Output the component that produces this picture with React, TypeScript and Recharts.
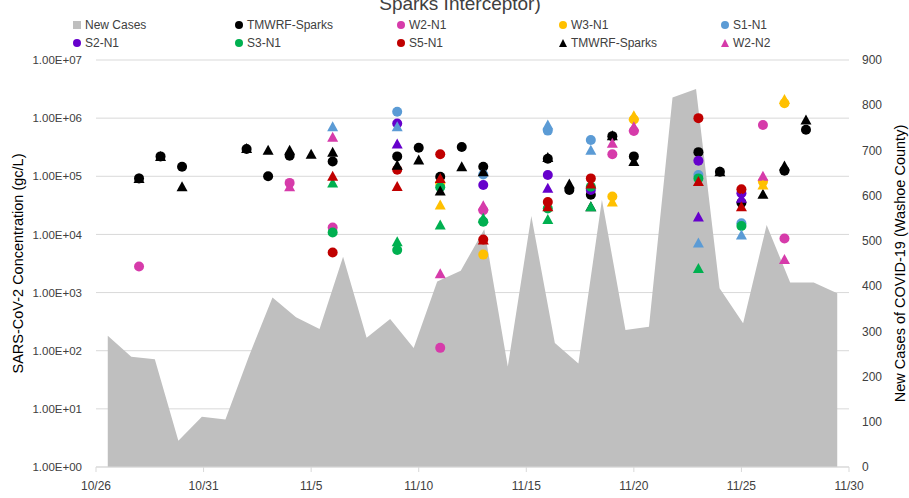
import React from "react";
import {
  ComposedChart,
  Area,
  Scatter,
  XAxis,
  YAxis,
  CartesianGrid,
  Legend,
} from "recharts";

// daily new cases, one value per category slot (10/26 .. 11/26)
const newCases = [
  290, 244, 238, 58, 111, 105, 245, 375, 331, 305, 465, 286, 327, 263, 410, 434,
  526, 222, 555, 274, 229, 591, 303, 310, 817, 836, 395, 318, 535, 408, 408, 384,
];

// days after 10/26 and concentration (gc/L)
const tmwrfN1 = [
  [2, 9.2e4], [3, 2.2e5], [4, 1.46e5], [7, 2.95e5], [8, 1.0e5], [9, 2.25e5],
  [11, 1.8e5], [14, 2.2e5], [15, 3.1e5], [16, 9.8e4], [17, 3.2e5], [18, 1.46e5],
  [21, 2.0e5], [22, 5.8e4], [23, 4.8e4], [24, 4.9e5], [25, 2.2e5], [28, 2.6e5],
  [29, 1.2e5], [30, 3.5e4], [32, 1.25e5], [33, 6.3e5],
];
const w2N1 = [
  [2, 2.8e3], [9, 7.7e4], [11, 1.32e4], [16, 1.12e2], [18, 2.6e4], [24, 2.4e5],
  [25, 6.0e5], [31, 7.6e5], [32, 8.5e3],
];
const w3N1 = [[16, 7.6e4], [18, 4.5e3], [24, 4.5e4], [25, 9.5e5], [31, 8.1e4], [32, 1.8e6]];
const s1N1 = [[14, 1.29e6], [18, 1.07e5], [21, 6.1e5], [23, 4.2e5], [28, 1.05e5], [30, 1.55e4]];
const s2N1 = [[14, 8.1e5], [18, 7.1e4], [21, 1.05e5], [23, 5.8e4], [28, 1.85e5], [30, 5.1e4]];
const s3N1 = [
  [11, 1.08e4], [14, 5.4e3], [16, 6.5e4], [18, 1.66e4], [21, 2.8e4], [23, 6.6e4],
  [28, 9.2e4], [30, 1.4e4],
];
const s5N1 = [
  [11, 4.9e3], [14, 1.3e5], [16, 2.4e5], [18, 8.2e3], [21, 3.6e4], [23, 9.2e4],
  [28, 1.0e6], [30, 6.0e4],
];
const tmwrfN2 = [
  [2, 9.2e4], [3, 2.2e5], [4, 6.6e4], [7, 3.0e5], [8, 2.8e5], [9, 2.8e5],
  [10, 2.4e5], [11, 2.6e5], [14, 1.55e5], [15, 1.9e5], [16, 5.6e4], [17, 1.46e5],
  [18, 1.2e5], [21, 2.1e5], [22, 7.4e4], [23, 3.0e4], [24, 5.0e5], [25, 1.8e5],
  [29, 1.2e5], [31, 4.9e4], [32, 1.5e5], [33, 9.3e5],
];
const w2N2 = [
  [9, 6.6e4], [11, 4.7e5], [16, 2.1e3], [18, 3.1e4], [24, 3.7e5], [25, 7.1e5],
  [31, 1.0e5], [32, 3.7e3],
];
const w3N2 = [[16, 3.2e4], [24, 3.6e4], [25, 1.1e6], [31, 7.1e4], [32, 2.1e6]];
const s1N2 = [[11, 7.1e5], [14, 7.1e5], [21, 7.6e5], [23, 2.8e5], [28, 7.1e3], [30, 9.8e3]];
const s2N2 = [[14, 3.6e5], [21, 6.2e4], [28, 2.0e4], [30, 4.2e4]];
const s3N2 = [
  [11, 7.7e4], [14, 7.5e3], [16, 1.45e4], [18, 1.9e4], [21, 1.8e4], [23, 3.0e4],
  [28, 2.6e3],
];
const s5N2 = [
  [11, 1.0e5], [14, 6.7e4], [16, 9.2e4], [18, 8.0e3], [21, 3.0e4], [23, 7.4e4],
  [28, 8.1e4], [30, 3.0e4],
];

const dateTicks = [0, 5, 10, 15, 20, 25, 30, 35];
const concTicks = [1, 10, 100, 1e3, 1e4, 1e5, 1e6, 1e7];
const caseTicks = [0, 100, 200, 300, 400, 500, 600, 700, 800, 900];

const FONT = "'Liberation Sans', Arial, sans-serif";
const TEXT = "#404040";

const toPoints = (arr: number[][]) => arr.map(([d, v]) => ({ d, v }));
const areaData = newCases.map((cases, i) => ({ i: i + 0.5, cases }));

const fmtDate = (d: number) => {
  const dt = new Date(2020, 9, 26 + d);
  return `${dt.getMonth() + 1}/${dt.getDate()}`;
};
const fmtSci = (v: number) => {
  const e = Math.round(Math.log10(v));
  return `1.00E+${String(e).padStart(2, "0")}`;
};

const dot = (color: string) => (p: any) => (
  <circle cx={p.cx} cy={p.cy} r={5} fill={color} />
);
const tri = (color: string) => (p: any) => (
  <polygon
    points={`${p.cx},${p.cy - 5.5} ${p.cx + 5.5},${p.cy + 4.5} ${p.cx - 5.5},${p.cy + 4.5}`}
    fill={color}
  />
);

const legendItems = [
  { name: "New Cases", color: "#BFBFBF", kind: "square" },
  { name: "TMWRF-Sparks", color: "#000000", kind: "dot" },
  { name: "W2-N1", color: "#D63BAA", kind: "dot" },
  { name: "W3-N1", color: "#FFC000", kind: "dot" },
  { name: "S1-N1", color: "#5B9BD5", kind: "dot" },
  { name: "S2-N1", color: "#6600CC", kind: "dot" },
  { name: "S3-N1", color: "#00B050", kind: "dot" },
  { name: "S5-N1", color: "#C00000", kind: "dot" },
  { name: "TMWRF-Sparks", color: "#000000", kind: "tri" },
  { name: "W2-N2", color: "#D63BAA", kind: "tri" },
];

const renderLegend = () => (
  <div
    style={{
      display: "grid",
      gridTemplateColumns: "repeat(5, 162px)",
      rowGap: 0,
      paddingLeft: 72,
      fontFamily: FONT,
      fontSize: 12,
      color: TEXT,
    }}
  >
    {legendItems.map((it, k) => (
      <div key={k} style={{ display: "flex", alignItems: "center", height: 18 }}>
        <svg width={10} height={10} style={{ marginRight: 3 }}>
          {it.kind === "square" && <rect x={1} y={1} width={8} height={8} fill={it.color} />}
          {it.kind === "dot" && <circle cx={5} cy={5} r={4} fill={it.color} />}
          {it.kind === "tri" && <polygon points="5,1 9,9 1,9" fill={it.color} />}
        </svg>
        <span>{it.name}</span>
      </div>
    ))}
  </div>
);

export default function App() {
  return (
    <div style={{ position: "absolute", left: 0, top: 0, width: 909, height: 498, background: "#fff" }}>
      <svg width={909} height={20} style={{ position: "absolute", left: 0, top: 0 }}>
        <text x={460} y={10} textAnchor="middle" fontFamily={FONT} fontSize={19} fill={TEXT}>
          Sparks Interceptor)
        </text>
      </svg>
      <ComposedChart
        width={909}
        height={498}
        data={areaData}
        margin={{ top: 60, right: 0, bottom: 0, left: 0 }}
        style={{ fontFamily: FONT }}
      >
        <CartesianGrid
          xAxisId="date"
          yAxisId="conc"
          vertical={false}
          stroke="#D9D9D9"
          horizontalValues={concTicks}
        />
        <XAxis xAxisId="cat" dataKey="i" type="number" domain={[0, 32]} height={0} hide />
        <XAxis
          xAxisId="date"
          dataKey="d"
          type="number"
          domain={[0, 35]}
          ticks={dateTicks}
          tickFormatter={fmtDate}
          allowDataOverflow
          height={31}
          tickSize={5}
          tickMargin={9}
          stroke="#D9D9D9"
          tick={{ fill: TEXT, fontSize: 12 }}
        />
        <YAxis
          yAxisId="conc"
          dataKey="v"
          scale="log"
          domain={[1, 1e7]}
          ticks={concTicks}
          tickFormatter={fmtSci}
          allowDataOverflow
          width={96}
          axisLine={false}
          tickLine={false}
          tickMargin={8}
          tick={{ fill: TEXT, fontSize: 11.5 }}
          label={{
            content: (props: any) => {
              const vb = props.viewBox;
              const cy = vb.y + vb.height / 2;
              return (
                <text
                  x={18}
                  y={cy}
                  transform={`rotate(-90 18 ${cy})`}
                  textAnchor="middle"
                  dominantBaseline="central"
                  fontSize={14.5}
                  fill="#000"
                >
                  SARS-CoV-2 Concentration (gc/L)
                </text>
              );
            },
          }}
        />
        <YAxis
          yAxisId="cases"
          orientation="right"
          domain={[0, 900]}
          ticks={caseTicks}
          width={60}
          axisLine={false}
          tickLine={false}
          tickMargin={7}
          tick={{ fill: TEXT, fontSize: 12 }}
          label={{
            content: (props: any) => {
              const vb = props.viewBox;
              const cy = vb.y + vb.height / 2;
              return (
                <text
                  x={900}
                  y={cy}
                  transform={`rotate(-90 900 ${cy})`}
                  textAnchor="middle"
                  dominantBaseline="central"
                  fontSize={14.5}
                  fill="#000"
                >
                  New Cases of COVID-19 (Washoe County)
                </text>
              );
            },
          }}
        />
        <Legend
          layout="horizontal"
          verticalAlign="middle"
          wrapperStyle={{ top: 16, left: 0, width: 909 }}
          content={renderLegend}
        />
        <Area
          xAxisId="cat"
          yAxisId="cases"
          type="linear"
          dataKey="cases"
          name="New Cases"
          fill="#BFBFBF"
          fillOpacity={1}
          stroke="none"
          isAnimationActive={false}
        />
        <Scatter xAxisId="date" yAxisId="conc" name="TMWRF-Sparks" data={toPoints(tmwrfN1)} shape={dot("#000000")} isAnimationActive={false} />
        <Scatter xAxisId="date" yAxisId="conc" name="W2-N1" data={toPoints(w2N1)} shape={dot("#D63BAA")} isAnimationActive={false} />
        <Scatter xAxisId="date" yAxisId="conc" name="W3-N1" data={toPoints(w3N1)} shape={dot("#FFC000")} isAnimationActive={false} />
        <Scatter xAxisId="date" yAxisId="conc" name="S1-N1" data={toPoints(s1N1)} shape={dot("#5B9BD5")} isAnimationActive={false} />
        <Scatter xAxisId="date" yAxisId="conc" name="S2-N1" data={toPoints(s2N1)} shape={dot("#6600CC")} isAnimationActive={false} />
        <Scatter xAxisId="date" yAxisId="conc" name="S3-N1" data={toPoints(s3N1)} shape={dot("#00B050")} isAnimationActive={false} />
        <Scatter xAxisId="date" yAxisId="conc" name="S5-N1" data={toPoints(s5N1)} shape={dot("#C00000")} isAnimationActive={false} />
        <Scatter xAxisId="date" yAxisId="conc" name="TMWRF-Sparks N2" data={toPoints(tmwrfN2)} shape={tri("#000000")} isAnimationActive={false} />
        <Scatter xAxisId="date" yAxisId="conc" name="W2-N2" data={toPoints(w2N2)} shape={tri("#D63BAA")} isAnimationActive={false} />
        <Scatter xAxisId="date" yAxisId="conc" name="W3-N2" data={toPoints(w3N2)} shape={tri("#FFC000")} isAnimationActive={false} />
        <Scatter xAxisId="date" yAxisId="conc" name="S1-N2" data={toPoints(s1N2)} shape={tri("#5B9BD5")} isAnimationActive={false} />
        <Scatter xAxisId="date" yAxisId="conc" name="S2-N2" data={toPoints(s2N2)} shape={tri("#6600CC")} isAnimationActive={false} />
        <Scatter xAxisId="date" yAxisId="conc" name="S3-N2" data={toPoints(s3N2)} shape={tri("#00B050")} isAnimationActive={false} />
        <Scatter xAxisId="date" yAxisId="conc" name="S5-N2" data={toPoints(s5N2)} shape={tri("#C00000")} isAnimationActive={false} />
      </ComposedChart>
    </div>
  );
}
